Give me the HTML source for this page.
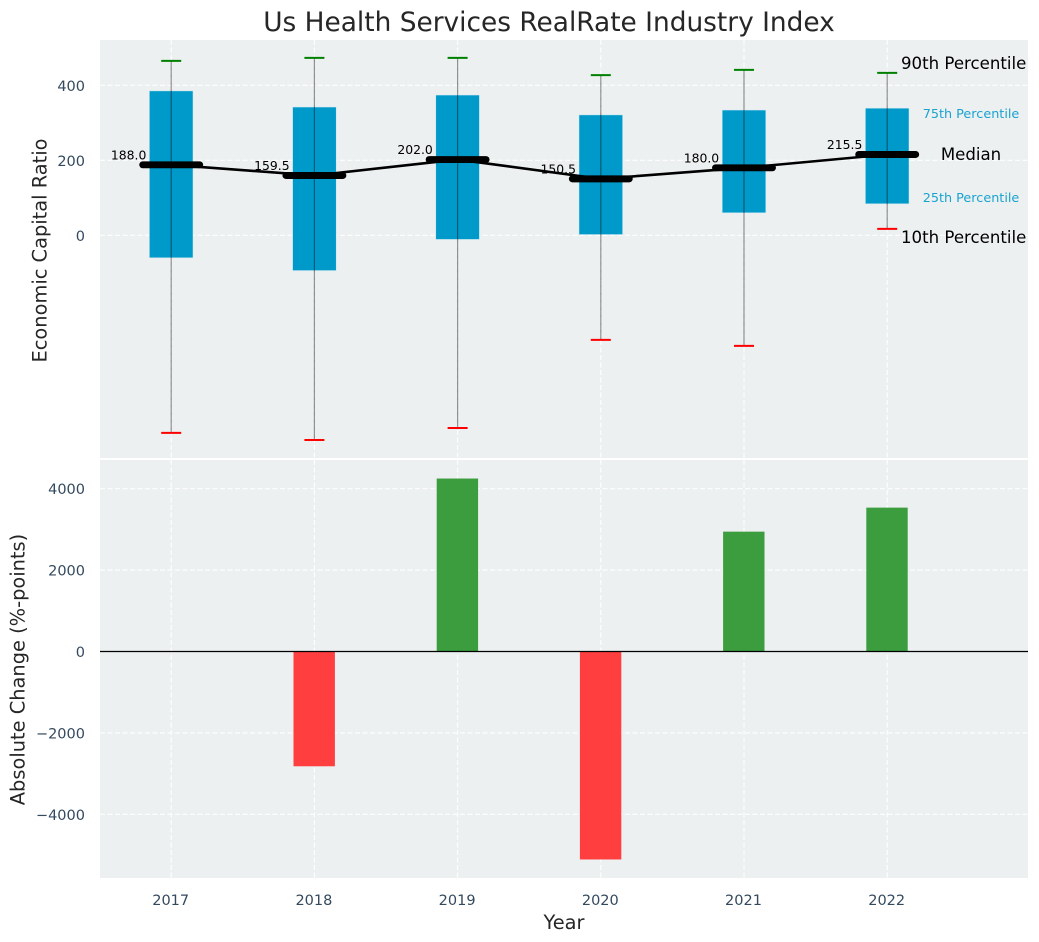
<!DOCTYPE html>
<html lang="en">
<head>
<meta charset="utf-8">
<title>Us Health Services RealRate Industry Index</title>
<style>
html,body{margin:0;padding:0;background:#fff;width:1039px;height:942px;overflow:hidden}
svg{display:block;font-family:"DejaVu Sans","Liberation Sans",sans-serif}
</style>
</head>
<body>
<svg id="chart" xmlns="http://www.w3.org/2000/svg" width="1039" height="942" viewBox="0 0 1039 942">
  <rect x="0" y="0" width="1039" height="942" fill="#ffffff"/>
  <rect x="100" y="40" width="928" height="418" fill="#ecf0f1"/>
  <rect x="100" y="460" width="928" height="418" fill="#ecf0f1"/>
  <g id="grid"></g>
  <g id="top"></g>
  <g id="bottom"></g>
  <g id="ticks"></g>
  <text x="549" y="31" text-anchor="middle" font-size="26.4" fill="#262626">Us Health Services RealRate Industry Index</text>
  <text transform="translate(46.5 250.5) rotate(-90)" text-anchor="middle" font-size="19.4" fill="#262626">Economic Capital Ratio</text>
  <text transform="translate(24.5 669.5) rotate(-90)" text-anchor="middle" font-size="19.4" fill="#262626">Absolute Change (%-points)</text>
  <text x="564" y="929" text-anchor="middle" font-size="19.4" fill="#262626">Year</text>
</svg>
<script>
const years = [2017, 2018, 2019, 2020, 2021, 2022];
const p90 = [465, 473, 473, 427, 441, 433];
const p75 = [385, 342, 374, 321, 334, 339];
const medians = [188.0, 159.5, 202.0, 150.5, 180.0, 215.5];
const p25 = [-60, -94, -11, 2, 60, 84];
const p10 = [-527, -546, -514, -279, -295, 17];
const changes = [0, -2820, 4250, -5110, 2945, 3535];
const topTicks = [0, 200, 400];
const bottomTicks = [-4000, -2000, 0, 2000, 4000];

const NS = 'http://www.w3.org/2000/svg';
const xPos = i => 171.2 + i * 143.2;
const yTop = v => 235.3 - v * 0.375;
const yBottom = v => 651.5 - v * 0.0407;
const gridG = document.getElementById('grid');
const topG = document.getElementById('top');
const bottomG = document.getElementById('bottom');
const ticksG = document.getElementById('ticks');

function mk(parent, tag, attrs, content) {
  const el = document.createElementNS(NS, tag);
  for (const k in attrs) el.setAttribute(k, attrs[k]);
  if (content !== undefined) el.textContent = content;
  parent.appendChild(el);
  return el;
}
const gridStyle = { stroke: '#ffffff', 'stroke-width': 1.1, 'stroke-dasharray': '5 2.5', opacity: 0.95 };
const tickFill = '#34495e';
const fmt = v => (v < 0 ? '\u2212' + Math.abs(v) : String(v));

years.forEach((yr, i) => {
  const x = xPos(i);
  let el = mk(gridG, 'line', { x1: x, x2: x, y1: 40, y2: 458, ...gridStyle });
  
  
  el = mk(gridG, 'line', { x1: x, x2: x, y1: 460, y2: 878, ...gridStyle });
  
  
  el = mk(ticksG, 'text', { x: x - 0.5, y: 905, 'text-anchor': 'middle', 'font-size': 14.5, fill: tickFill }, yr);
  
  
});
topTicks.forEach(v => {
  let el = mk(gridG, 'line', { x1: 100, x2: 1028, y1: yTop(v), y2: yTop(v), ...gridStyle });
  
  
  el = mk(ticksG, 'text', { x: 85, y: yTop(v) + 5.5, 'text-anchor': 'end', 'font-size': 14.5, fill: tickFill }, fmt(v));
  
  
});
bottomTicks.forEach(v => {
  let el = mk(gridG, 'line', { x1: 100, x2: 1028, y1: yBottom(v), y2: yBottom(v), ...gridStyle });
  
  
  el = mk(ticksG, 'text', { x: 85, y: yBottom(v) + 5.5, 'text-anchor': 'end', 'font-size': 14.5, fill: tickFill }, fmt(v));
  
  
});

years.forEach((yr, i) => {
  const x = xPos(i);
  let el = mk(topG, 'rect', { x: x - 21.8, width: 43.6, y: yTop(p75[i]), height: yTop(p25[i]) - yTop(p75[i]), fill: '#009aca', stroke: '#cfe8f0', 'stroke-width': 0.5 });
  
  
});

const path = medians.map((m, i) => (i ? 'L' : 'M') + xPos(i) + ' ' + yTop(m)).join(' ');
const medianLine = mk(topG, 'path', { d: path, fill: 'none', stroke: '#000000', 'stroke-width': 2.6 });



years.forEach((yr, i) => {
  const x = xPos(i);
  let el = mk(topG, 'line', { x1: x, x2: x, y1: yTop(p90[i]), y2: yTop(p10[i]), stroke: '#000000', 'stroke-opacity': 0.42, 'stroke-width': 1.2 });
  
  
  el = mk(topG, 'line', { x1: x - 10, x2: x + 10, y1: yTop(p90[i]), y2: yTop(p90[i]), stroke: '#008000', 'stroke-width': 2 });
  
  
  el = mk(topG, 'line', { x1: x - 10, x2: x + 10, y1: yTop(p10[i]), y2: yTop(p10[i]), stroke: '#ff0000', 'stroke-width': 2 });
  
  
  el = mk(topG, 'line', { x1: x - 28.5, x2: x + 28.5, y1: yTop(medians[i]), y2: yTop(medians[i]), stroke: '#000000', 'stroke-width': 6.9, 'stroke-linecap': 'round' });
  
  
  el = mk(topG, 'text', { x: x - 24.8, y: yTop(medians[i]) - 5.5, 'text-anchor': 'end', 'font-size': 12.4, fill: '#000000' }, medians[i].toFixed(1));
  
  

  if (changes[i] !== 0) {
    const y0 = yBottom(0), y1 = yBottom(changes[i]);
    el = mk(bottomG, 'rect', { x: x - 20.9, width: 41.4, y: Math.min(y0, y1), height: Math.abs(y1 - y0), fill: changes[i] > 0 ? '#3b9d3e' : '#ff3f3f' });
    
    
  }
});

const zeroLine = mk(bottomG, 'line', { x1: 100, x2: 1028, y1: yBottom(0), y2: yBottom(0), stroke: '#000000', 'stroke-width': 1.2 });



const last = years.length - 1;
let note = mk(topG, 'text', { x: 901, y: yTop(p90[last]) - 4, 'font-size': 16.6, fill: '#000000' }, '90th Percentile');


note = mk(topG, 'text', { x: 971, y: yTop(p75[last]) + 10, 'text-anchor': 'middle', 'font-size': 12.8, fill: '#1aa3d0' }, '75th Percentile');


note = mk(topG, 'text', { x: 971, y: yTop(medians[last]) + 5.5, 'text-anchor': 'middle', 'font-size': 16.6, fill: '#000000' }, 'Median');


note = mk(topG, 'text', { x: 971, y: yTop(p25[last]) - 2, 'text-anchor': 'middle', 'font-size': 12.8, fill: '#1aa3d0' }, '25th Percentile');


note = mk(topG, 'text', { x: 901, y: yTop(p10[last]) + 14, 'font-size': 16.6, fill: '#000000' }, '10th Percentile');


</script>
</body>
</html>
